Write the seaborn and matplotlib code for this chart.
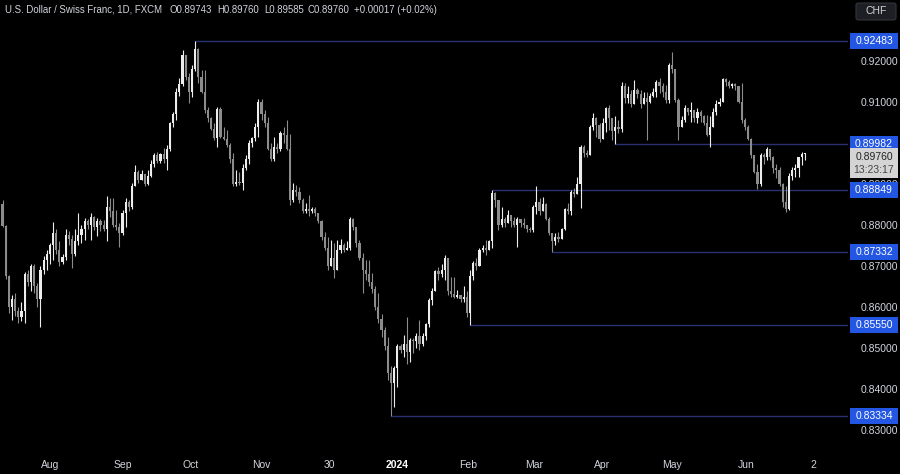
import numpy as np
import pandas as pd
import matplotlib.pyplot as plt
import seaborn as sns
from matplotlib.patches import Rectangle, FancyBboxPatch
from matplotlib.transforms import blended_transform_factory

# USD/CHF daily candles (closes, highs, lows), Jul 2023 - Jun 2024
closes = [0.8798, 0.8675, 0.8600, 0.8620, 0.8590, 0.8575, 0.8590, 0.8680, 0.8660, 0.8700,
          0.8650, 0.8620, 0.8690, 0.8715, 0.8730, 0.8750, 0.8780, 0.8740, 0.8710, 0.8722,
          0.8775, 0.8765, 0.8730, 0.8760, 0.8775, 0.8790, 0.8810, 0.8800, 0.8820, 0.8795,
          0.8810, 0.8800, 0.8790, 0.8845, 0.8835, 0.8800, 0.8795, 0.8780, 0.8830, 0.8855,
          0.8845, 0.8895, 0.8930, 0.8910, 0.8925, 0.8900, 0.8920, 0.8950, 0.8970, 0.8955,
          0.8972, 0.8960, 0.8985, 0.9050, 0.9070, 0.9125, 0.9145, 0.9215, 0.9160, 0.9125,
          0.9180, 0.9230, 0.9160, 0.9125, 0.9080, 0.9060, 0.9035, 0.9012, 0.9084, 0.9015,
          0.9010, 0.8995, 0.8960, 0.8900, 0.8905, 0.8903, 0.8940, 0.8960, 0.9000, 0.9012,
          0.9040, 0.9100, 0.9070, 0.9050, 0.8985, 0.8960, 0.8990, 0.8985, 0.9025, 0.9020,
          0.8985, 0.8860, 0.8885, 0.8880, 0.8860, 0.8835, 0.8840, 0.8835, 0.8840, 0.8830,
          0.8810, 0.8770, 0.8745, 0.8700, 0.8720, 0.8690, 0.8740, 0.8750, 0.8740, 0.8745,
          0.8815, 0.8795, 0.8755, 0.8720, 0.8690, 0.8680, 0.8660, 0.8645, 0.8600, 0.8570,
          0.8545, 0.8505, 0.8440, 0.8415, 0.8450, 0.8505, 0.8495, 0.8510, 0.8490, 0.8520,
          0.8518, 0.8530, 0.8510, 0.8530, 0.8558, 0.8618, 0.8640, 0.8688, 0.8680, 0.8690,
          0.8720, 0.8640, 0.8632, 0.8625, 0.8630, 0.8620, 0.8625, 0.8585, 0.8675, 0.8708,
          0.8700, 0.8740, 0.8745, 0.8740, 0.8760, 0.8877, 0.8860, 0.8800, 0.8815, 0.8805,
          0.8825, 0.8810, 0.8800, 0.8815, 0.8805, 0.8800, 0.8790, 0.8788, 0.8845, 0.8855,
          0.8835, 0.8850, 0.8815, 0.8780, 0.8760, 0.8770, 0.8765, 0.8790, 0.8840, 0.8835,
          0.8880, 0.8875, 0.8900, 0.8990, 0.8975, 0.8970, 0.9040, 0.9060, 0.9045, 0.9010,
          0.9050, 0.9085, 0.9060, 0.9030, 0.9040, 0.9035, 0.9140, 0.9110, 0.9120, 0.9095,
          0.9130, 0.9120, 0.9095, 0.9110, 0.9100, 0.9115, 0.9125, 0.9150, 0.9140, 0.9125,
          0.9105, 0.9190, 0.9180, 0.9105, 0.9040, 0.9055, 0.9085, 0.9075, 0.9080, 0.9060,
          0.9075, 0.9065, 0.9050, 0.9020, 0.9040, 0.9075, 0.9095, 0.9100, 0.9155, 0.9150,
          0.9140, 0.9145, 0.9140, 0.9100, 0.9055, 0.9040, 0.9010, 0.8970, 0.8930, 0.8900,
          0.8970, 0.8965, 0.8985, 0.8965, 0.8940, 0.8935, 0.8900, 0.8855, 0.8840, 0.8920,
          0.8935, 0.8940, 0.8965, 0.89743, 0.89760]
highs = [0.8860, 0.8800, 0.8678, 0.8630, 0.8634, 0.8601, 0.8613, 0.8685, 0.8690, 0.8705,
         0.8705, 0.8658, 0.8700, 0.8725, 0.8740, 0.8757, 0.8808, 0.8790, 0.8760, 0.8730,
         0.8790, 0.8785, 0.8775, 0.8790, 0.8829, 0.8800, 0.8816, 0.8815, 0.8829, 0.8822,
         0.8817, 0.8815, 0.8812, 0.8870, 0.8865, 0.8865, 0.8837, 0.8804, 0.8837, 0.8865,
         0.8860, 0.8902, 0.8946, 0.8934, 0.8934, 0.8925, 0.8934, 0.8959, 0.8975, 0.8979,
         0.8975, 0.8987, 0.8995, 0.9052, 0.9076, 0.9133, 0.9158, 0.9227, 0.9215, 0.9170,
         0.9190, 0.92483, 0.9232, 0.9178, 0.9178, 0.9088, 0.9064, 0.9048, 0.9088, 0.9088,
         0.9040, 0.9032, 0.9000, 0.8975, 0.8934, 0.8930, 0.8950, 0.8970, 0.9007, 0.9015,
         0.9048, 0.9108, 0.9108, 0.9080, 0.9064, 0.9000, 0.9015, 0.9000, 0.9030, 0.9040,
         0.9056, 0.9023, 0.8902, 0.8898, 0.8893, 0.8865, 0.8853, 0.8873, 0.8845, 0.8845,
         0.8829, 0.8812, 0.8784, 0.8771, 0.8763, 0.8755, 0.8763, 0.8767, 0.8755, 0.8760,
         0.8820, 0.8816, 0.8795, 0.8763, 0.8731, 0.8715, 0.8715, 0.8682, 0.8650, 0.8633,
         0.8584, 0.8552, 0.8527, 0.8456, 0.8455, 0.8510, 0.8510, 0.8532, 0.8576, 0.8524,
         0.8525, 0.8536, 0.8568, 0.8536, 0.8560, 0.8621, 0.8646, 0.8690, 0.8698, 0.8706,
         0.8727, 0.8700, 0.8674, 0.8674, 0.8642, 0.8630, 0.8650, 0.8640, 0.8690, 0.8711,
         0.8719, 0.8743, 0.8751, 0.8763, 0.8763, 0.88849, 0.8880, 0.8861, 0.8845, 0.8820,
         0.8837, 0.8824, 0.8820, 0.8820, 0.8812, 0.8816, 0.8800, 0.8796, 0.8849, 0.8894,
         0.8865, 0.8869, 0.8853, 0.8820, 0.8780, 0.8780, 0.8784, 0.8792, 0.8841, 0.8853,
         0.8885, 0.8890, 0.8918, 0.8995, 0.8995, 0.8983, 0.9044, 0.9072, 0.9064, 0.9048,
         0.9060, 0.9089, 0.9093, 0.9060, 0.9065, 0.9056, 0.9150, 0.9146, 0.9140, 0.9129,
         0.9154, 0.9135, 0.9129, 0.9125, 0.9125, 0.9121, 0.9133, 0.9154, 0.9158, 0.9146,
         0.9142, 0.9194, 0.9223, 0.9158, 0.9109, 0.9065, 0.9093, 0.9085, 0.9101, 0.9080,
         0.9085, 0.9080, 0.9068, 0.9068, 0.9065, 0.9085, 0.9105, 0.9109, 0.9158, 0.9158,
         0.9154, 0.9146, 0.9146, 0.9133, 0.9146, 0.9060, 0.9044, 0.9011, 0.8971, 0.8950,
         0.8975, 0.8975, 0.8991, 0.8985, 0.8968, 0.8950, 0.8942, 0.8902, 0.8894, 0.8926,
         0.8942, 0.8950, 0.8967, 0.8979, 0.89760]
lows = [0.8795, 0.8668, 0.8585, 0.8568, 0.8577, 0.8560, 0.8565, 0.8560, 0.8650, 0.8640,
        0.8634, 0.8601, 0.8552, 0.8680, 0.8690, 0.8705, 0.8715, 0.8730, 0.8699, 0.8705,
        0.8715, 0.8750, 0.8695, 0.8725, 0.8750, 0.8755, 0.8763, 0.8790, 0.8763, 0.8788,
        0.8772, 0.8785, 0.8785, 0.8760, 0.8820, 0.8796, 0.8788, 0.8747, 0.8775, 0.8796,
        0.8835, 0.8838, 0.8894, 0.8902, 0.8910, 0.8894, 0.8898, 0.8918, 0.8942, 0.8951,
        0.8951, 0.8951, 0.8934, 0.8980, 0.9040, 0.9055, 0.9115, 0.9140, 0.9154, 0.9097,
        0.9113, 0.9175, 0.9146, 0.9121, 0.9072, 0.9052, 0.9032, 0.9007, 0.8991, 0.9013,
        0.9007, 0.8991, 0.8951, 0.8894, 0.8895, 0.8898, 0.8885, 0.8934, 0.8950, 0.8990,
        0.9005, 0.9015, 0.9055, 0.9040, 0.8983, 0.8955, 0.8955, 0.8975, 0.8980, 0.9000,
        0.8983, 0.8848, 0.8855, 0.8870, 0.8853, 0.8829, 0.8829, 0.8821, 0.8829, 0.8821,
        0.8804, 0.8763, 0.8739, 0.8690, 0.8715, 0.8670, 0.8715, 0.8731, 0.8735, 0.8740,
        0.8740, 0.8788, 0.8747, 0.8715, 0.8633, 0.8666, 0.8650, 0.8633, 0.8593, 0.8560,
        0.8527, 0.8495, 0.8422, 0.83334, 0.8357, 0.8406, 0.8488, 0.8479, 0.8460, 0.8467,
        0.8487, 0.8500, 0.8495, 0.8505, 0.8520, 0.8552, 0.8605, 0.8640, 0.8665, 0.8674,
        0.8666, 0.8629, 0.8625, 0.8621, 0.8621, 0.8613, 0.8613, 0.8576, 0.85550, 0.8666,
        0.8690, 0.8700, 0.8735, 0.8727, 0.8738, 0.8745, 0.8845, 0.8788, 0.8796, 0.8796,
        0.8804, 0.8796, 0.8796, 0.8747, 0.8796, 0.8792, 0.8784, 0.8784, 0.8784, 0.8828,
        0.8824, 0.8845, 0.8812, 0.8776, 0.87332, 0.8751, 0.8759, 0.8767, 0.8788, 0.8828,
        0.8824, 0.8869, 0.8877, 0.8841, 0.8967, 0.8967, 0.8991, 0.9032, 0.9015, 0.9003,
        0.9024, 0.9028, 0.9032, 0.9007, 0.89982, 0.9024, 0.9028, 0.9097, 0.9097, 0.9089,
        0.9113, 0.9110, 0.9085, 0.9095, 0.9007, 0.9097, 0.9113, 0.9113, 0.9121, 0.9113,
        0.9097, 0.9097, 0.9170, 0.9101, 0.9007, 0.9040, 0.9052, 0.9068, 0.9052, 0.9052,
        0.9048, 0.9052, 0.9044, 0.9016, 0.8991, 0.9040, 0.9068, 0.9090, 0.9100, 0.9138,
        0.9133, 0.9133, 0.9129, 0.9097, 0.9048, 0.9032, 0.9007, 0.8963, 0.8926, 0.8889,
        0.8894, 0.8950, 0.8959, 0.8959, 0.8926, 0.8914, 0.8894, 0.8845, 0.8832, 0.8837,
        0.8910, 0.8918, 0.8918, 0.8946, 0.89585]
first_open = 0.8852

# marked levels and the candle each line starts from
levels = [0.92483, 0.89982, 0.88849, 0.87332, 0.85550, 0.83334]
level_start = [61, 194, 155, 174, 148, 123]

last_price = '0.89760'
countdown = '13:23:17'

date_labels = ['Aug', 'Sep', 'Oct', 'Nov', '30', '2024', 'Feb', 'Mar', 'Apr', 'May', 'Jun', '2']
date_pos = [15.2, 38.1, 59.7, 81.8, 103.6, 124.8, 147.3, 168.2, 189.7, 211.9, 235.3, 256.8]
# 0.90000 sits fully under the 0.89982 tag in the reference, so it is left out
price_ticks = [0.83, 0.84, 0.85, 0.86, 0.87, 0.88, 0.89, 0.91, 0.92]

header = ['U.S. Dollar / Swiss Franc, 1D, FXCM', 'O0.89743', 'H0.89760', 'L0.89585',
          'C0.89760', '+0.00017 (+0.02%)']

df = pd.DataFrame({'close': closes, 'high': highs, 'low': lows})
df['open'] = [first_open] + closes[:-1]
df['high'] = df[['high', 'open', 'close']].max(axis=1)
df['low'] = df[['low', 'open', 'close']].min(axis=1)

BG = '#000000'
UP = '#ededed'
DOWN = '#8c8c8c'
TXT = '#d1d4dc'
BLUE = '#2356e3'
LINE = '#2b3072'

sns.set_theme(style='dark', rc={'axes.facecolor': BG, 'figure.facecolor': BG,
                                'savefig.facecolor': BG})
plt.rcParams['font.family'] = ['Liberation Sans Narrow', 'Liberation Sans', 'DejaVu Sans']

fig = plt.figure(figsize=(9, 4.74), dpi=100)
ax = fig.add_axes([0, 0.0464, 0.942, 0.9536])

# candles
for is_up, part in df.groupby(df['close'] >= df['open']):
    col = UP if is_up else DOWN
    ax.vlines(part.index, part['low'], part['high'], color=col, lw=0.8, zorder=2)
    body = (part['close'] - part['open']).abs().clip(lower=0.00005)
    ax.bar(part.index, body, bottom=part[['open', 'close']].min(axis=1),
           width=0.68, color=col, lw=0, zorder=2)

x_right = 267.6
ax.set_xlim(-0.8, x_right)
ax.set_ylim(0.82463, 0.93488)

# horizontal levels with their blue price tags
trans = blended_transform_factory(fig.transFigure, ax.transData)
px = 1 / 4100  # price per pixel
for lv, st in zip(levels, level_start):
    ax.hlines(lv, st, x_right, color=LINE, lw=1.0, zorder=1)
    ax.add_patch(Rectangle((850 / 900, lv - 8 * px), 48 / 900, 16 * px, transform=trans,
                           facecolor=BLUE, edgecolor='none', clip_on=False, zorder=5))
    ax.text(874 / 900, lv, f'{lv:.5f}', transform=trans, ha='center', va='center',
            color='white', fontsize=7.5, zorder=6, clip_on=False)

# last price tag with countdown
top = 0.92 - (148 - 61) * px
ax.add_patch(Rectangle((850 / 900, top - 30 * px), 48 / 900, 30 * px, transform=trans,
                       facecolor='#d4d4d4', edgecolor='none', clip_on=False, zorder=5))
ax.text(874 / 900, top - 9 * px, last_price, transform=trans, ha='center', va='center',
        color='#222222', fontsize=7.5, zorder=6, clip_on=False)
ax.text(874 / 900, top - 22 * px, countdown, transform=trans, ha='center', va='center',
        color='#444444', fontsize=7.5, zorder=6, clip_on=False)

# right price scale
ax.yaxis.tick_right()
ax.set_yticks(price_ticks)
ax.set_yticklabels([f'{p:.5f}' for p in price_ticks])
ax.tick_params(axis='y', length=0, pad=9, labelsize=7.5, labelcolor=TXT)

# time scale
ax.set_xticks(date_pos)
ax.set_xticklabels(date_labels)
ax.tick_params(axis='x', length=0, pad=6, labelsize=7.5, labelcolor=TXT)
for lab in ax.get_xticklabels():
    if lab.get_text() == '2024':
        lab.set_fontweight('bold')
        lab.set_color('white')

ax.grid(False)
for s in ax.spines.values():
    s.set_visible(False)

# header line
for txt, xp in zip(header, [5, 170, 217, 264, 307, 354]):
    fig.text(xp / 900, 1 - 10 / 474, txt, ha='left', va='center', color=TXT, fontsize=6.9)

# currency button
fig.patches.append(FancyBboxPatch((856 / 900, 1 - 20 / 474), 40 / 900, 17 / 474,
                                  boxstyle='round,pad=0,rounding_size=0.004',
                                  transform=fig.transFigure, facecolor='#1e1f24',
                                  edgecolor='#33353d', lw=0.8))
fig.text(876 / 900, 1 - 11.5 / 474, 'CHF', ha='center', va='center', color=TXT, fontsize=7.5)

fig.savefig('out.png', dpi=100, facecolor=BG)
